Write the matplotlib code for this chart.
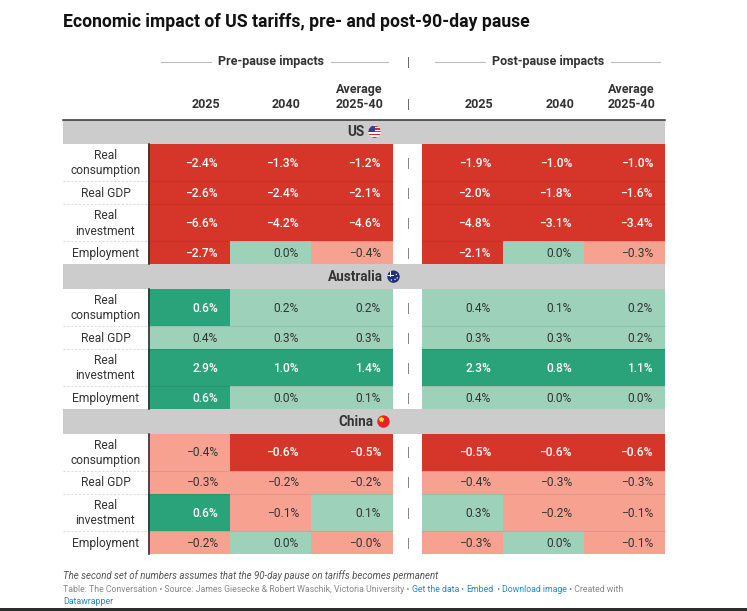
import matplotlib
matplotlib.use("Agg")
import matplotlib.pyplot as plt
from matplotlib.patches import Rectangle, Circle
import math

plt.rcParams['font.family'] = ['Roboto', 'DejaVu Sans']

# ---------------- data ----------------
countries = ["US", "Australia", "China"]
indicators = ["Real\nconsumption", "Real GDP", "Real\ninvestment", "Employment"]
col_headers = ["2025", "2040", "Average\n2025-40"]
group_headers = ["Pre-pause impacts", "Post-pause impacts"]

# order: US (cons, GDP, inv, emp), Australia (...), China (...)
pre_2025 = [-2.4, -2.6, -6.6, -2.7, 0.6, 0.4, 2.9, 0.6, -0.4, -0.3, 0.6, -0.2]
pre_2040 = [-1.3, -2.4, -4.2, 0.0, 0.2, 0.3, 1.0, 0.0, -0.6, -0.2, -0.1, 0.0]
pre_avg = [-1.2, -2.1, -4.6, -0.4, 0.2, 0.3, 1.4, 0.1, -0.5, -0.2, 0.1, -0.0]
post_2025 = [-1.9, -2.0, -4.8, -2.1, 0.4, 0.3, 2.3, 0.4, -0.5, -0.4, 0.3, -0.3]
post_2040 = [-1.0, -1.8, -3.1, 0.0, 0.1, 0.3, 0.8, 0.0, -0.6, -0.3, -0.2, 0.0]
post_avg = [-1.0, -1.6, -3.4, -0.3, 0.2, 0.2, 1.1, 0.0, -0.6, -0.3, -0.1, -0.1]

title = "Economic impact of US tariffs, pre- and post-90-day pause"
note = "The second set of numbers assumes that the 90-day pause on tariffs becomes permanent"

# ---------------- style / layout ----------------
W, H = 747, 611
RED, SALMON, LGREEN, DGREEN = "#d6352a", "#f7a291", "#9dd1b9", "#2aa37b"
GRAY = "#cccccc"
TXT = "#333333"
LINK = "#1d8bcb"

x_label = (63, 148)
pre_edges = [148, 230, 311, 393]
post_edges = [422, 503, 584, 665]
div_x = 408
top_y = 119.5
group_h = 24.5
row_h = {True: 37.2, False: 23.0}
pad_r = 12
PX = 0.72  # px -> pt at 100 dpi


def cell_color(v):
    neg = v < 0 or math.copysign(1, v) < 0
    if v <= -0.45:
        return RED, "white"
    if neg:
        return SALMON, TXT
    if v < 0.45:
        return LGREEN, TXT
    return DGREEN, "white"


def fmt(v):
    s = f"{abs(v):.1f}%"
    if v < 0 or math.copysign(1, v) < 0:
        s = "\u2212" + s
    return s


fig = plt.figure(figsize=(W / 100, H / 100), dpi=100)
ax = fig.add_axes([0, 0, 1, 1])
ax.set_xlim(0, W)
ax.set_ylim(H, 0)
ax.axis("off")
renderer = fig.canvas.get_renderer()

# title
ax.text(63, 22, title, fontsize=17.6 * PX, fontweight="bold", color="#111111",
        ha="left", va="center")

# spanning headers
for name, edges, cx in [(group_headers[0], pre_edges, 271), (group_headers[1], post_edges, 548)]:
    t = ax.text(cx, 62, name, fontsize=12.5 * PX, fontweight="bold", color=TXT,
                ha="center", va="center")
    bb = t.get_window_extent(renderer)
    half = bb.width / 2
    ax.plot([edges[0] + 13, cx - half - 7], [62, 62], color="#bbbbbb", lw=0.8)
    ax.plot([cx + half + 7, edges[-1] - 5], [62, 62], color="#bbbbbb", lw=0.8)
ax.text(div_x, 62, "|", fontsize=12 * PX, color="#555555", ha="center", va="center")

# column headers
for edges in (pre_edges, post_edges):
    for j, h in enumerate(col_headers):
        ax.text(edges[j + 1] - pad_r + 2, 104, h.split("\n")[-1], fontsize=12.5 * PX,
                fontweight="bold", color=TXT, ha="right", va="center")
        if "\n" in h:
            ax.text(edges[j + 1] - pad_r + 2, 89, h.split("\n")[0], fontsize=12.5 * PX,
                    fontweight="bold", color=TXT, ha="right", va="center")
ax.text(div_x, 104, "|", fontsize=12 * PX, color="#555555", ha="center", va="center")

ax.plot([63, 665], [top_y, top_y], color="#333333", lw=1.1, zorder=5)


def draw_flag(name, cx, cy, r=6.2):
    if name == "US":
        c = Circle((cx, cy), r, facecolor="white", edgecolor="none", zorder=6)
        ax.add_patch(c)
        n = 9
        for k in range(n):
            if k % 2 == 0:
                s = Rectangle((cx - r, cy - r + k * 2 * r / n), 2 * r, 2 * r / n,
                              facecolor="#d7263d", edgecolor="none", zorder=7)
                s.set_clip_path(c)
                ax.add_patch(s)
        b = Rectangle((cx - r, cy - r), r * 1.1, r * 1.0, facecolor="#3b3b8f",
                      edgecolor="none", zorder=8)
        b.set_clip_path(c)
        ax.add_patch(b)
    elif name == "Australia":
        c = Circle((cx, cy), r, facecolor="#22307a", edgecolor="none", zorder=6)
        ax.add_patch(c)
        for (dx, dy, w, h) in [(-r, -0.25 * r, r, 0.5), (-0.55 * r, -r, 0.5, r)]:
            p = Rectangle((cx + dx, cy + dy - 0.4), w, h + 0.6, facecolor="white",
                          edgecolor="none", zorder=7)
            p.set_clip_path(c)
            ax.add_patch(p)
        p = Rectangle((cx - r, cy - 0.25 * r - 0.1), r, 0.5, facecolor="#e0303a",
                      edgecolor="none", zorder=8)
        p.set_clip_path(c)
        ax.add_patch(p)
        for (dx, dy) in [(0.45, -0.35), (0.25, 0.45), (0.6, 0.2), (-0.35, 0.55)]:
            ax.add_patch(Circle((cx + dx * r, cy + dy * r), 0.7, facecolor="white",
                                edgecolor="none", zorder=8))
    else:
        c = Circle((cx, cy), r, facecolor="#e8222b", edgecolor="none", zorder=6)
        ax.add_patch(c)
        ax.plot([cx - 0.45 * r], [cy - 0.35 * r], marker="*", color="#ffde00",
                markersize=3.2, zorder=7)


cols_pre = [pre_2025, pre_2040, pre_avg]
cols_post = [post_2025, post_2040, post_avg]
y = top_y
idx = 0
for g, country in enumerate(countries):
    # group header
    ax.add_patch(Rectangle((63, y), 665 - 63, group_h, facecolor=GRAY, edgecolor="none", zorder=2))
    gy = y + group_h / 2
    t = ax.text(364, gy, country, fontsize=13.5 * PX, fontweight="bold", color=TXT,
                ha="center", va="center", zorder=6)
    w = t.get_window_extent(renderer).width
    total = w + 4 + 12.4
    left = 364 - total / 2
    t.set_x(left + w / 2)
    draw_flag(country, left + w + 4 + 6.2, gy)
    y += group_h
    g_start = y
    for i, ind in enumerate(indicators):
        h = row_h["\n" in ind]
        ax.text((x_label[0] + x_label[1]) / 2, y + h / 2 + 0.5, ind, fontsize=12 * PX,
                color=TXT, ha="center", va="center", linespacing=1.25)
        for edges, cols in ((pre_edges, cols_pre), (post_edges, cols_post)):
            for j, col in enumerate(cols):
                v = col[idx]
                fc, tc = cell_color(v)
                ax.add_patch(Rectangle((edges[j], y), edges[j + 1] - edges[j], h,
                                       facecolor=fc, edgecolor="none", zorder=1))
                ax.text(edges[j + 1] - pad_r, y + h / 2 + 0.5, fmt(v), fontsize=12 * PX,
                        color=tc, ha="right", va="center",
                        fontweight="medium" if tc == "white" else "normal", zorder=4)
        ax.text(div_x, y + h / 2 + 0.5, "|", fontsize=12 * PX, color="#777777",
                ha="center", va="center")
        y += h
        idx += 1
        if i < len(indicators) - 1:
            ax.plot([63, 148], [y, y], color="#dddddd", lw=0.8, ls=(0, (2, 1.5)), zorder=3)
            for edges in (pre_edges, post_edges):
                ax.plot([edges[0], edges[-1]], [y, y], color="black", alpha=0.07, lw=0.8, zorder=3)
    ax.plot([148.5, 148.5], [g_start, y], color="#333333", lw=1.2, zorder=5)

# footer
ax.text(63, 576, note, fontsize=9.7 * PX, style="italic", color="#555555",
        ha="left", va="center")

pieces = [
    ("Table: The Conversation \u2022 Source: James Giesecke & Robert Waschik, Victoria University \u2022 ", "#888888"),
    ("Get the data", LINK), (" \u2022 ", "#888888"), ("Embed", LINK), ("  \u2022 ", "#888888"),
    ("Download image", LINK), (" \u2022 Created with", "#888888"),
]
prev = None
for s, c in pieces:
    if prev is None:
        prev = ax.text(63, 590, s, fontsize=8.8 * PX, color=c, ha="left", va="center")
    else:
        prev = ax.annotate(s, xy=(1, 0.5), xycoords=prev, fontsize=8.8 * PX, color=c,
                           ha="left", va="center")
ax.text(63, 601, "Datawrapper", fontsize=8.8 * PX, color=LINK, ha="left", va="center")

ax.add_patch(Rectangle((0, 607.5), W, 4, facecolor="#2d2d2d", edgecolor="none", zorder=9))

fig.savefig("out.png", dpi=100)
